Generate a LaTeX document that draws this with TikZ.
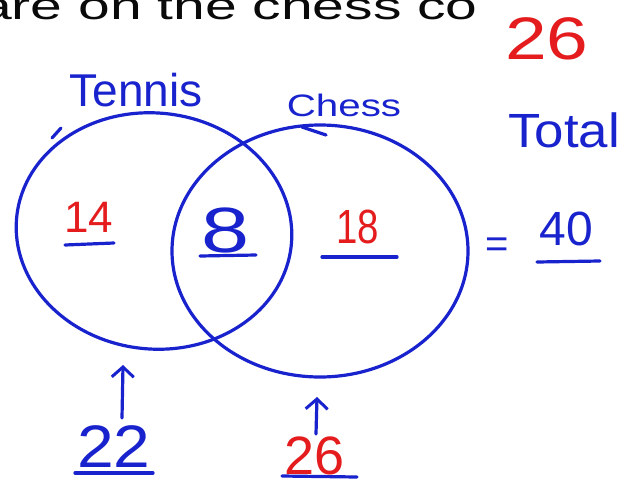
\documentclass[tikz,border=0pt]{standalone}
\usepackage{fontspec}
\setmainfont{Liberation Sans}
\usetikzlibrary{arrows.meta,shapes.geometric}
\definecolor{penblue}{RGB}{25,35,205}
\definecolor{penred}{RGB}{228,28,30}
\definecolor{penblack}{RGB}{10,10,10}
\begin{document}
\begin{tikzpicture}[x=1pt,y=-1pt,
  pen/.style={line width=3.2pt, line cap=round, line join=round, draw=penblue},
  ring/.style={pen, ellipse, inner sep=0pt},
  bluetext/.style={text=penblue, inner sep=0pt, anchor=base},
  redtext/.style={text=penred, inner sep=0pt, anchor=base},
  uline/.style={pen},
  uparrow/.style={pen, -{Straight Barb[length=10pt,width=22pt,line width=3pt]}}]
\useasboundingbox (0,0) rectangle (626,479);
\clip (0,0) rectangle (626,479);
\fill[white] (0,0) rectangle (626,479);

% cut-off handwriting at the top
\node[text=penblack, inner sep=0pt, anchor=base west] (top) at (-20,19)
  {\scalebox{1.5}[1]{\fontsize{38}{40}\selectfont are on the chess co}};

% circles
\node[ring, minimum width=276pt, minimum height=236pt, rotate=-6] (tennis) at (154,231) {};
\node[ring, minimum width=296pt, minimum height=252pt] (chess) at (320,251) {};
\coordinate (tk1) at (52,138);
\coordinate (tk2) at (61,128);
\draw[pen] (tk1) -- (tk2);
\coordinate (ck1) at (302,127);
\coordinate (ck2) at (326,135);
\draw[pen] (ck1) -- (ck2);

% labels
\node[bluetext] (ltennis) at (136,106) {\fontsize{46}{48}\selectfont Tennis};
\node[bluetext] (lchess) at (344,116) {\scalebox{1.3}[1]{\fontsize{31}{33}\selectfont Chess}};
\node[bluetext] (ltotal) at (564,147) {\scalebox{1.1}[1]{\fontsize{48}{50}\selectfont Total}};
\node[redtext] (ntop) at (547,59) {\scalebox{1.25}[1]{\fontsize{60}{62}\selectfont 26}};

\node[redtext] (n14) at (89,232) {\fontsize{44}{46}\selectfont 14};
\node[bluetext] (n8) at (226,252) {\scalebox{1.35}[1]{\fontsize{64}{66}\selectfont 8}};
\node[redtext] (n18) at (358,243) {\scalebox{0.8}[1]{\fontsize{48}{50}\selectfont 18}};
\node[text=penblue, inner sep=0pt] (eq) at (497,248) {\fontsize{40}{42}\selectfont =};
\node[bluetext] (n40) at (566,245) {\fontsize{48}{50}\selectfont 40};
\node[bluetext] (n22) at (114,467) {\scalebox{1.1}[1]{\fontsize{60}{62}\selectfont 22}};
\node[redtext] (n26) at (315,474) {\fontsize{54}{56}\selectfont 26};

% underlines
\coordinate (u14a) at (65,245); \coordinate (u14b) at (114,243);
\coordinate (u8a) at (200,256); \coordinate (u8b) at (256,255);
\coordinate (u18a) at (322,257); \coordinate (u18b) at (397,257);
\coordinate (u40a) at (537,262); \coordinate (u40b) at (600,261);
\coordinate (u22a) at (75,473); \coordinate (u22b) at (153,473);
\coordinate (u26a) at (282,476); \coordinate (u26b) at (357,477);
\draw[uline] (u14a) -- (u14b);
\draw[uline] (u8a) -- (u8b);
\draw[uline] (u18a) -- (u18b);
\draw[uline] (u40a) -- (u40b);
\draw[uline] (u22a) -- (u22b);
\draw[uline] (u26a) -- (u26b);

% arrows
\coordinate (t22) at (122,418); \coordinate (h22) at (123,365);
\coordinate (t26) at (316,434); \coordinate (h26) at (317,397);
\draw[uparrow] (t22) -- (h22);
\draw[uparrow] (t26) -- (h26);
\end{tikzpicture}
\end{document}
